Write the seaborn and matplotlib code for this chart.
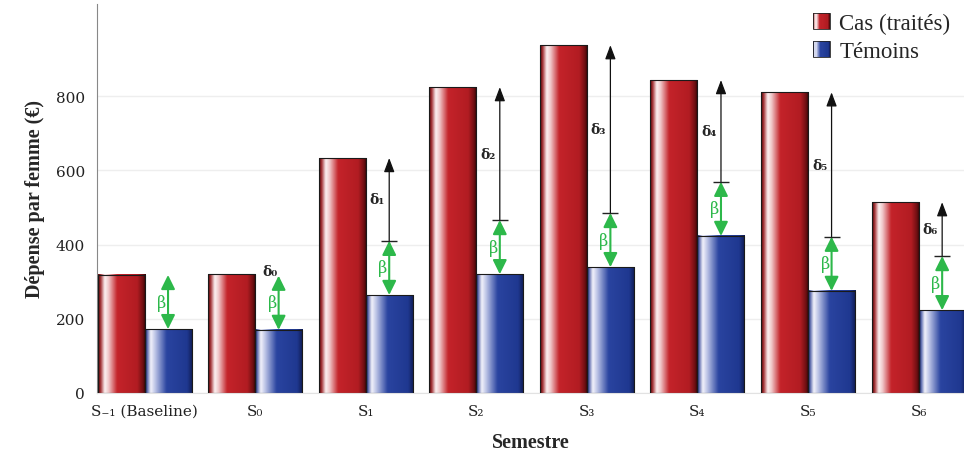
import numpy as np
import pandas as pd
import seaborn as sns
import matplotlib
matplotlib.use("Agg")
from matplotlib import pyplot as plt
from matplotlib.colors import LinearSegmentedColormap
from matplotlib.legend_handler import HandlerPatch
from matplotlib.patches import Patch, Rectangle

semestres = ["S₋₁ (Baseline)", "S₀", "S₁", "S₂", "S₃", "S₄", "S₅", "S₆"]
cas = [318, 320, 633, 824, 937, 843, 810, 514]
temoins = [172, 170, 264, 320, 339, 423, 275, 223]
groupes = ["Cas (traités)", "Témoins"]
delta_labels = ["", "δ₀", "δ₁", "δ₂", "δ₃", "δ₄", "δ₅", "δ₆"]

beta = cas[0] - temoins[0]

df = pd.DataFrame({
    "Semestre": semestres * 2,
    "Dépense": cas + temoins,
    "Groupe": [groupes[0]] * len(semestres) + [groupes[1]] * len(semestres),
})

red_cmap = LinearSegmentedColormap.from_list("rouge", [
    (0, "#4a0808"), (0.05, "#a02a2e"), (0.14, "#fdf3f3"), (0.22, "#f0c8ca"),
    (0.40, "#c4232a"), (0.82, "#b21c22"), (0.94, "#6e0f12"), (1, "#2a0505")])
blue_cmap = LinearSegmentedColormap.from_list("bleu", [
    (0, "#0a1440"), (0.04, "#5060a8"), (0.12, "#f4f4fc"), (0.22, "#b8c0e4"),
    (0.45, "#2a44a0"), (0.88, "#1f3890"), (1, "#0f1a50")])
cmaps = [red_cmap, blue_cmap]

sns.set_style("white")
plt.rcParams["font.family"] = ["DejaVu Serif"]

fig = plt.figure(figsize=(9.64, 4.6), dpi=100)
ax = fig.add_axes([0.1006, 0.1435, 0.8994, 0.8457])

sns.barplot(data=df, x="Semestre", y="Dépense", hue="Groupe", order=semestres,
            hue_order=groupes, width=0.85, gap=0, palette=["#b81c22", "#1f3a93"],
            legend=False, ax=ax, zorder=2)

gradient = np.linspace(0, 1, 256)[None, :]
for cont, cmap in zip(ax.containers, cmaps):
    for bar in cont:
        x0, y0 = bar.get_x(), bar.get_y()
        w, h = bar.get_width(), bar.get_height()
        ax.imshow(gradient, cmap=cmap, extent=[x0, x0 + w, y0, y0 + h],
                  aspect="auto", zorder=2, interpolation="bicubic")
        bar.set_facecolor("none")
        bar.set_edgecolor("#1a1a1a")
        bar.set_linewidth(0.8)
        bar.set_zorder(3)

# arrows: beta (green) on top of the controls, delta (black) up to the treated bar
blue_bars = ax.containers[1]
green = "#2db84a"
for i, bar in enumerate(blue_bars):
    xa = bar.get_x() + bar.get_width() / 2
    base = temoins[i]
    top_b = base + beta
    ax.annotate("", xy=(xa, top_b), xytext=(xa, base),
                arrowprops=dict(arrowstyle="<|-|>,head_width=0.42,head_length=0.85",
                                color=green, lw=1.5, shrinkA=0, shrinkB=0), zorder=4)
    ax.text(xa - 0.015, (base + top_b) / 2, "β", color=green, fontsize=11.5,
            ha="right", va="center", zorder=5)
    if i >= 2:
        ax.annotate("", xy=(xa, cas[i]), xytext=(xa, top_b),
                    arrowprops=dict(arrowstyle="-|>,head_width=0.32,head_length=0.85",
                                    color="#111111", lw=0.9, shrinkA=0, shrinkB=0), zorder=4)
        ax.plot([xa], [top_b], marker="_", markersize=11, color="#222222",
                mew=1.0, zorder=5)
        ax.text(xa - 0.04, (top_b + cas[i]) / 2, delta_labels[i], fontsize=10,
                fontweight="bold", ha="right", va="center", zorder=5)
    elif i == 1:
        ax.text(xa - 0.01, cas[i] + 8, delta_labels[i], fontsize=10,
                fontweight="bold", ha="right", va="center", zorder=5)

ax.set_xlim(-0.43, 7.41)
ax.set_ylim(0, 1048)
ax.set_yticks([0, 200, 400, 600, 800])
ax.yaxis.grid(True, color="#eeeeee", lw=1)
ax.set_axisbelow(True)
sns.despine(ax=ax)
ax.spines["left"].set_color("#888888")
ax.spines["bottom"].set_color("#e2e2e2")
ax.tick_params(axis="y", length=5, color="#888888", labelsize=11, labelcolor="#222222")
ax.tick_params(axis="x", length=0, labelsize=11, labelcolor="#222222", pad=8)

ax.set_xlabel("Semestre", fontsize=14.5, fontweight="bold",
              family=["Liberation Serif"], labelpad=10)
ax.set_ylabel("Dépense par femme (€)", fontsize=14.5, fontweight="bold",
              family=["Liberation Serif"], labelpad=8)


class GradientHandler(HandlerPatch):
    def __init__(self, cmap):
        super().__init__()
        self.cmap = cmap

    def create_artists(self, legend, orig_handle, xdescent, ydescent, width,
                       height, fontsize, trans):
        n = 14
        arts = []
        for k in range(n):
            r = Rectangle((-xdescent + width * k / n, -ydescent), width / n + 0.3, height,
                          facecolor=self.cmap((k + 0.5) / n), edgecolor="none",
                          transform=trans)
            arts.append(r)
        arts.append(Rectangle((-xdescent, -ydescent), width, height, facecolor="none",
                              edgecolor="#222222", lw=0.6, transform=trans))
        return arts


handles = [Patch(label=groupes[0]), Patch(label=groupes[1])]
ax.legend(handles=handles, loc="upper right", bbox_to_anchor=(1.008, 1.03), frameon=False,
          prop={"family": ["Liberation Serif"], "size": 16.5}, handlelength=0.75,
          handleheight=0.7, handletextpad=0.4, labelspacing=0.3,
          handler_map={handles[0]: GradientHandler(red_cmap),
                       handles[1]: GradientHandler(blue_cmap)})

fig.savefig("out.png", dpi=100)
